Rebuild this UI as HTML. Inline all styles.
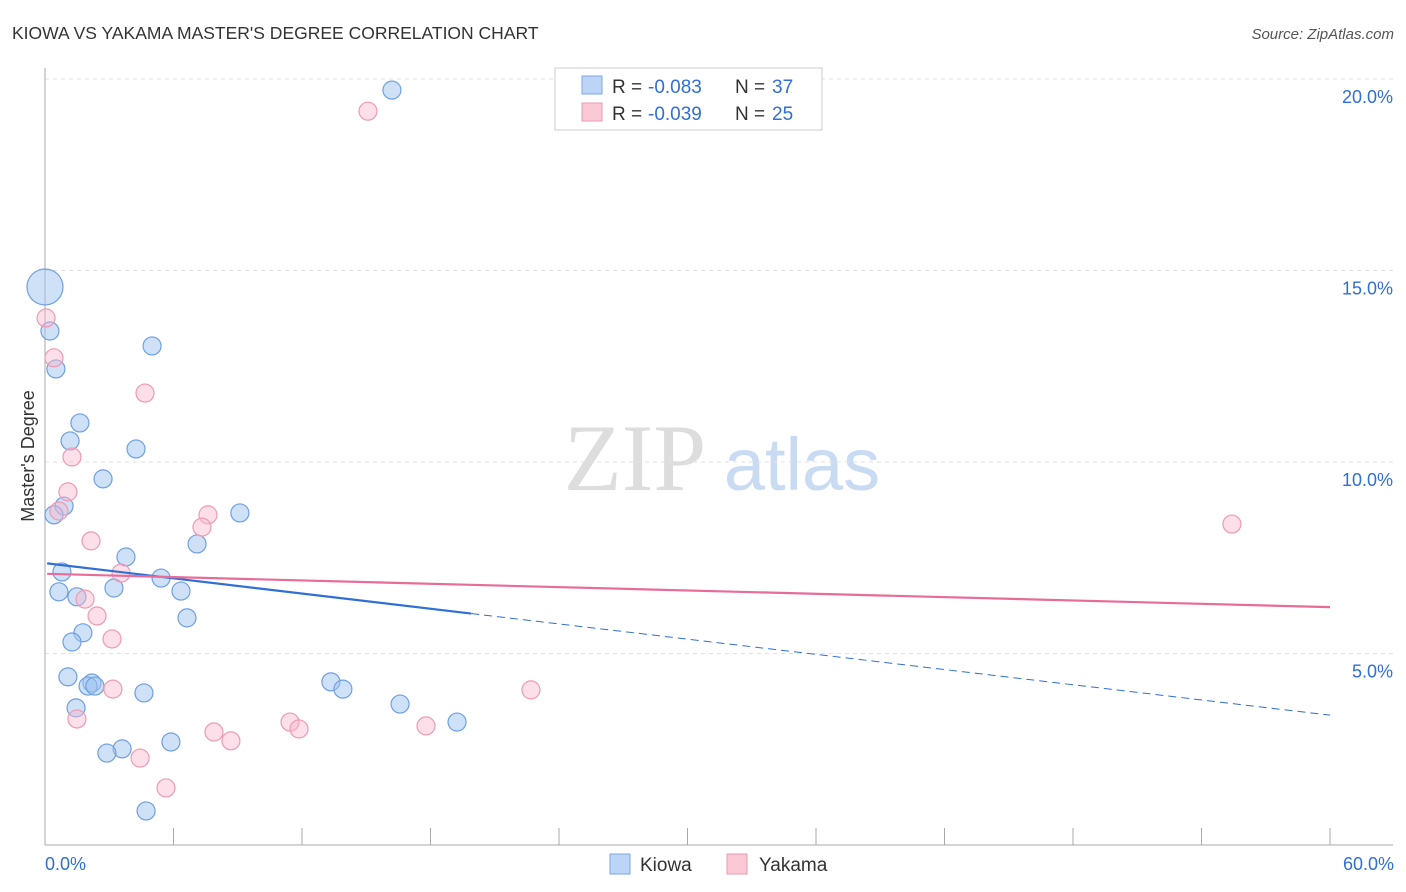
<!DOCTYPE html>
<html><head><meta charset="utf-8"><style>
body{margin:0;background:#fff;font-family:"Liberation Sans",sans-serif}
svg{display:block}
</style></head><body>
<svg id="c" width="1406" height="892">
<text x="12" y="39" font-size="17.5" fill="#333">KIOWA VS YAKAMA MASTER'S DEGREE CORRELATION CHART</text>
<text x="1394" y="39" font-size="15" fill="#555" font-style="italic" text-anchor="end">Source: ZipAtlas.com</text>
<text x="635" y="490" font-size="95" fill="#ddd" font-family="Liberation Serif,serif" text-anchor="middle">ZIP</text>
<text x="802" y="490" font-size="74" fill="#c9daf3" text-anchor="middle">atlas</text>
<text transform="translate(34,456) rotate(-90)" font-size="18" fill="#333" text-anchor="middle">Master's Degree</text>
<g id="grid"></g><g id="pts"></g><g id="lines"></g>
<g>
<rect x="555" y="68" width="267" height="62" fill="#fff" stroke="#ccc"/>
<rect x="582" y="76" width="20" height="18" fill="#bcd4f5" stroke="#7aa7e8"/>
<rect x="582" y="103" width="20" height="18" fill="#fbc8d6" stroke="#ee9ab3"/>
<text x="612" y="93" font-size="19" fill="#333">R =</text>
<text x="648" y="93" font-size="19" fill="#2f6fd6">-0.083</text>
<text x="735" y="93" font-size="19" fill="#333">N =</text>
<text x="772" y="93" font-size="19" fill="#2f6fd6">37</text>
<text x="612" y="120" font-size="19" fill="#333">R =</text>
<text x="648" y="120" font-size="19" fill="#2f6fd6">-0.039</text>
<text x="735" y="120" font-size="19" fill="#333">N =</text>
<text x="772" y="120" font-size="19" fill="#2f6fd6">25</text>
</g>
<g>
<rect x="610" y="854" width="20" height="20" fill="#bcd4f5" stroke="#7aa7e8"/>
<text x="640" y="871" font-size="19" fill="#333">Kiowa</text>
<rect x="727" y="854" width="20" height="20" fill="#fbc8d6" stroke="#ee9ab3"/>
<text x="759" y="871" font-size="19" fill="#333">Yakama</text>
</g>
<text x="45" y="870" font-size="18" fill="#2f6fd6">0.0%</text>
<text x="1394" y="870" font-size="18" fill="#2f6fd6" text-anchor="end">60.0%</text>
</svg>
<script>
const yTicks=[5,10,15,20];
const xTicks=[0,6,12,18,24,30,36,42,48,54,60];
const kiowaX=[16.2,0,0.23,0.51,5.0,1.63,1.17,4.25,2.71,9.10,0.89,0.42,7.10,3.78,0.79,5.42,3.22,0.65,6.35,1.49,6.63,1.77,1.26,1.07,2.19,2.01,2.33,13.35,4.62,13.91,1.45,16.58,19.24,5.88,3.60,2.89,4.72];
const kiowaY=[19.71,14.57,13.42,12.43,13.03,11.02,10.55,10.34,9.56,8.67,8.85,8.62,7.86,7.52,7.13,6.97,6.71,6.61,6.63,6.48,5.93,5.54,5.30,4.39,4.23,4.15,4.15,4.26,3.97,4.07,3.58,3.68,3.21,2.69,2.51,2.40,0.89];
const kiowaSize=[1,2,1,1,1,1,1,1,1,1,1,1,1,1,1,1,1,1,1,1,1,1,1,1,1,1,1,1,1,1,1,1,1,1,1,1,1];
const yakX=[15.08,0.05,0.42,4.67,1.26,1.07,0.65,7.61,7.33,2.15,3.55,1.87,2.43,3.13,55.42,3.17,22.69,1.49,11.44,11.86,17.79,7.89,8.68,4.44,5.65];
const yakY=[19.16,13.76,12.72,11.80,10.13,9.22,8.72,8.62,8.30,7.94,7.10,6.42,5.98,5.38,8.38,4.07,4.05,3.29,3.21,3.03,3.11,2.95,2.72,2.27,1.49];
const kiowaTrend=[7.36,3.39], kiowaSolidEnd=19.9;
const yakTrend=[7.08,6.21];
const NS='http://www.w3.org/2000/svg';
const sx=v=>45+v/60*1285, sy=v=>845-v/5*191.5;
function mk(t,a,p){const e=document.createElementNS(NS,t);for(const k in a)e.setAttribute(k,a[k]);p.appendChild(e);return e;}
const g=document.getElementById('grid');
yTicks.forEach(v=>{
 const l=mk('line',{x1:45,x2:1393,y1:sy(v),y2:sy(v),stroke:'#e2e2e2','stroke-dasharray':'4,4'},g);
 
 
 const t=mk('text',{x:1393,y:sy(v)+24,'font-size':18,fill:'#2f6fd6','text-anchor':'end'},g);
 t.textContent=v.toFixed(1)+'%';
 
 
});
mk('line',{x1:45,x2:45,y1:68,y2:845,stroke:'#aaa'},g);
mk('line',{x1:45,x2:1393,y1:845,y2:845,stroke:'#aaa'},g);
xTicks.forEach(v=>{
 const l=mk('line',{x1:sx(v),x2:sx(v),y1:828,y2:845,stroke:'#aaa'},g);
 
 
});
const p=document.getElementById('pts');
kiowaX.forEach((x,i)=>{
 const c=mk('circle',{cx:sx(x),cy:sy(kiowaY[i]),r:9*kiowaSize[i],fill:'rgba(160,195,240,0.5)',stroke:'#6f9fe3','stroke-width':1.2},p);
 
 
});
yakX.forEach((x,i)=>{
 const c=mk('circle',{cx:sx(x),cy:sy(yakY[i]),r:9,fill:'rgba(248,185,205,0.45)',stroke:'#ee9ab3','stroke-width':1.2},p);
 
 
});
const L=document.getElementById('lines');
const kAt=x=>kiowaTrend[0]+(kiowaTrend[1]-kiowaTrend[0])*x/60;
const k1=mk('line',{x1:sx(0.1),y1:sy(kAt(0.1)),x2:sx(kiowaSolidEnd),y2:sy(kAt(kiowaSolidEnd)),stroke:'#2f6fd6','stroke-width':2.2},L);


const k2=mk('line',{x1:sx(kiowaSolidEnd),y1:sy(kAt(kiowaSolidEnd)),x2:sx(60),y2:sy(kAt(60)),stroke:'#2f6fd6','stroke-width':1,'stroke-dasharray':'8,5'},L);


const y1=mk('line',{x1:sx(0.1),y1:sy(yakTrend[0]),x2:sx(60),y2:sy(yakTrend[1]),stroke:'#e86c98','stroke-width':2.2},L);


</script>
</body></html>
